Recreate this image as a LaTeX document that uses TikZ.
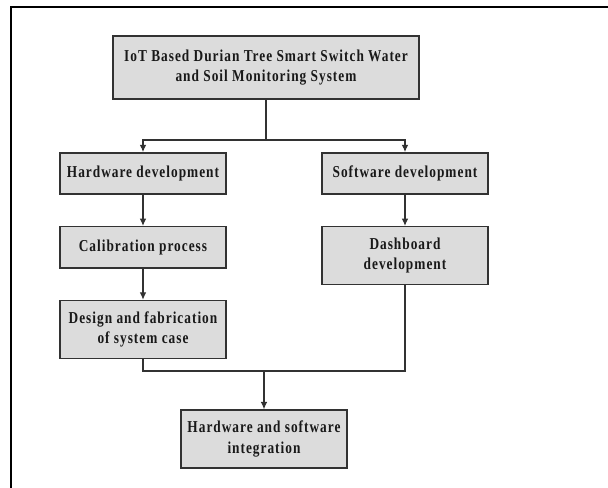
\documentclass[tikz,border=0pt]{standalone}
\usepackage{fontspec}
\setmainfont{Liberation Serif}[LetterSpace=6, FakeStretch=0.8]
\usepackage{xcolor}
\usepackage{tikz}
\usetikzlibrary{positioning, arrows.meta}

\definecolor{boxgray}{RGB}{220,220,220}
\definecolor{edgegray}{RGB}{50,50,50}

\begin{document}
\begin{tikzpicture}[
        x=0.75pt, y=-0.75pt,
        node distance=23.25pt,
        every node/.style={font=\fontsize{12.5}{15.5}\selectfont\bfseries, text=black!90},
        stagebox/.style={draw=edgegray, line width=1.1pt, fill=boxgray, minimum width=124.5pt, minimum height=31pt, align=center, inner sep=2pt},
        tallbox/.style={stagebox, minimum height=43.5pt},
        arrow/.style={-{Latex[length=5.5pt, width=5pt]}, line width=0.8pt, draw=edgegray},
        link/.style={line width=0.8pt, draw=edgegray}
    ]

    \useasboundingbox (0,0) rectangle (608,488);

    % frame along the top and left
    \draw[line width=1.6pt, black] (11,488) -- (11,7) -- (608,7);

    % Main nodes
    \node[stagebox, minimum width=229.5pt, minimum height=47pt] (system) at (266,67.5) {IoT Based Durian Tree Smart Switch Water\\and Soil Monitoring System};
    \node[stagebox] (hardware) at (143,173.5) {Hardware development};
    \node[stagebox] (software) at (405,173.5) {Software development};
    \node[stagebox, below=of hardware] (calib) {Calibration process};
    \node[tallbox, below=of calib] (casing) {Design and fabrication\\of system case};
    \node[tallbox, below=of software] (dashboard) {Dashboard\\development};
    \node[tallbox] (integ) at (264,439) {Hardware and software\\integration};

    % Split into the two branches
    \coordinate (split) at (system.south |- 0,140);
    \draw[link] (system.south) -- (split);
    \draw[arrow] (split) -| (hardware.north);
    \draw[arrow] (split) -| (software.north);

    % Flow down each branch
    \draw[arrow] (hardware) -- (calib);
    \draw[arrow] (calib) -- (casing);
    \draw[arrow] (software) -- (dashboard);

    % Merge into integration
    \coordinate (merge) at (integ.north |- 0,371);
    \draw[link] (casing.south) |- (merge);
    \draw[link] (dashboard.south) |- (merge);
    \draw[arrow] (merge) -- (integ.north);

\end{tikzpicture}
\end{document}
